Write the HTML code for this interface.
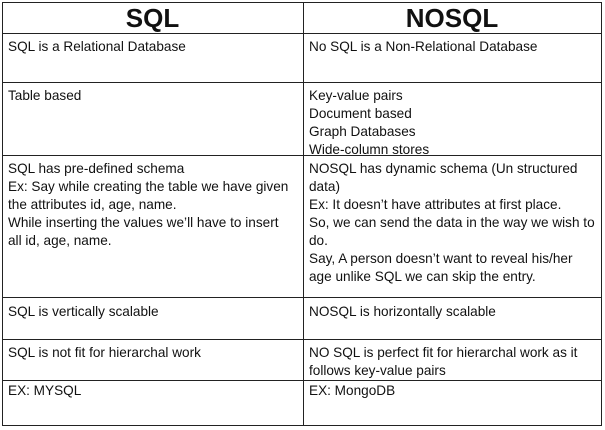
<!DOCTYPE html>
<html><head><style>
body{margin:0;width:605px;height:430px;background:#fff;position:relative;overflow:hidden;font-family:"Liberation Sans",sans-serif;color:#111}
.h{position:absolute;background:#222;height:1px;left:2px;width:600px}
.v{position:absolute;background:#222;width:1px;top:2px;height:424px}
.t{position:absolute;font-size:13.6px;line-height:18px;white-space:nowrap}
.hd{position:absolute;top:2px;height:31px;line-height:32px;font-size:26px;font-weight:bold;text-align:center}
</style></head><body>
<div class="h" style="top:2px"></div>
<div class="h" style="top:33px"></div>
<div class="h" style="top:82px"></div>
<div class="h" style="top:155px"></div>
<div class="h" style="top:297px"></div>
<div class="h" style="top:339px"></div>
<div class="h" style="top:380px"></div>
<div class="h" style="top:425px"></div>
<div class="v" style="left:2px"></div>
<div class="v" style="left:303px"></div>
<div class="v" style="left:601px"></div>
<div class="hd" style="left:2px;width:301px">SQL</div>
<div class="hd" style="left:303px;width:298px">NOSQL</div>
<div class="t" style="left:8px;top:38px">SQL is a Relational Database</div>
<div class="t" style="left:309px;top:38px">No SQL is a Non-Relational Database</div>
<div class="t" style="left:8px;top:87px">Table based</div>
<div class="t" style="left:309px;top:87px">Key-value pairs<br>Document based<br>Graph Databases<br>Wide-column stores</div>
<div class="t" style="left:8px;top:160px">SQL has pre-defined schema<br>Ex: Say while creating the table we have given<br>the attributes id, age, name.<br>While inserting the values we’ll have to insert<br>all id, age, name.</div>
<div class="t" style="left:309px;top:160px">NOSQL has dynamic schema (Un structured<br>data)<br>Ex: It doesn’t have attributes at first place.<br>So, we can send the data in the way we wish to<br>do.<br>Say, A person doesn’t want to reveal his/her<br>age unlike SQL we can skip the entry.</div>
<div class="t" style="left:8px;top:303px">SQL is vertically scalable</div>
<div class="t" style="left:309px;top:303px">NOSQL is horizontally scalable</div>
<div class="t" style="left:8px;top:344px">SQL is not fit for hierarchal work</div>
<div class="t" style="left:309px;top:344px">NO SQL is perfect fit for hierarchal work as it<br>follows key-value pairs</div>
<div class="t" style="left:8px;top:382px">EX: MYSQL</div>
<div class="t" style="left:309px;top:382px">EX: MongoDB</div>
</body></html>
